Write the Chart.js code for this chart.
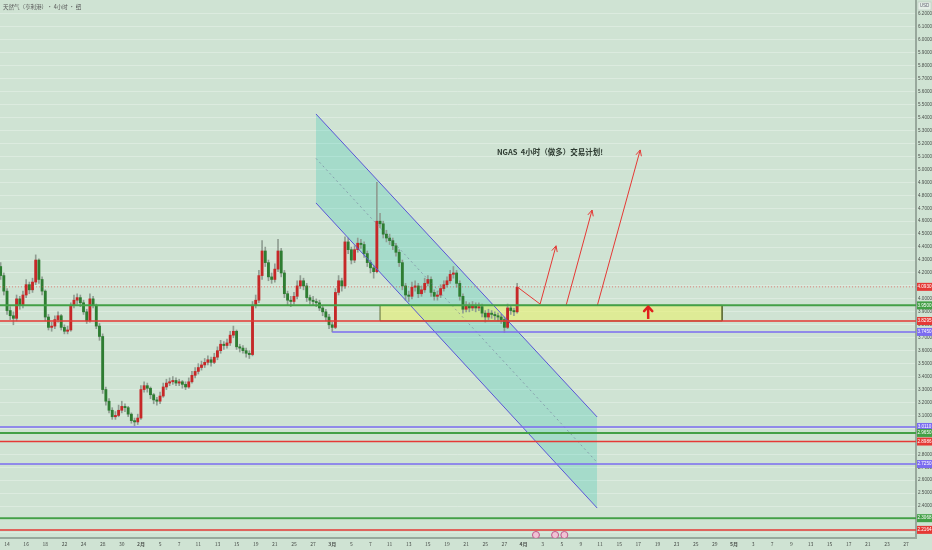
<!DOCTYPE html>
<html><head><meta charset="utf-8">
<script src="https://cdn.jsdelivr.net/npm/chart.js@4.4.1/dist/chart.umd.min.js"></script>
<style>html,body{margin:0;padding:0;background:#cfe3d3;overflow:hidden}#wrap{width:932px;height:550px}</style>
</head><body><div id="wrap"><canvas id="c" width="932" height="550"></canvas></div>
<script>
// ---- data ----
const xLabels = ['14','16','18','22','24','28','30','2月','5','7','11','13','15','19','21','25','27','3月','5','7','11','13','15','19','21','25','27','4月','3','5','9','11','15','17','19','23','25','29','5月','3','7','9','13','15','17','21','23','27'];
const yTicks = [2.2,2.3,2.4,2.5,2.6,2.7,2.8,2.9,3.0,3.1,3.2,3.3,3.4,3.5,3.6,3.7,3.8,3.9,4.0,4.1,4.2,4.3,4.4,4.5,4.6,4.7,4.8,4.9,5.0,5.1,5.2,5.3,5.4,5.5,5.6,5.7,5.8,5.9,6.0,6.1,6.2];
const opens = [4.25,4.18,4.06,3.91,3.87,3.85,4.00,3.95,4.03,4.11,
4.07,4.13,4.30,4.15,4.06,3.86,3.78,3.79,3.84,3.87,
3.78,3.75,3.76,3.95,3.99,4.01,3.97,3.90,3.83,4.00,
3.95,3.79,3.71,3.30,3.21,3.14,3.09,3.10,3.14,3.17,
3.16,3.11,3.06,3.05,3.08,3.30,3.33,3.31,3.26,3.22,
3.21,3.25,3.32,3.35,3.36,3.37,3.35,3.36,3.34,3.32,
3.36,3.41,3.44,3.47,3.49,3.51,3.53,3.51,3.55,3.60,
3.65,3.64,3.66,3.72,3.75,3.63,3.62,3.60,3.58,3.57,
3.95,3.99,4.18,4.37,4.28,4.17,4.15,4.23,4.37,4.20,
4.04,3.99,3.98,4.02,4.10,4.14,4.10,4.01,3.99,3.98,
3.97,3.93,3.90,3.86,3.80,3.78,4.05,4.14,4.10,4.44,
4.38,4.30,4.38,4.43,4.42,4.35,4.28,4.24,4.21,4.60,
4.58,4.50,4.47,4.45,4.41,4.36,4.28,4.10,4.03,4.02,
4.09,4.10,4.04,4.07,4.12,4.15,4.05,4.02,4.03,4.08,
4.11,4.14,4.19,4.20,4.12,4.02,3.92,3.95,3.93,3.95,
3.93,3.94,3.89,3.86,3.89,3.88,3.87,3.86,3.84,3.78,
3.93,3.91,3.90];
const closes = [4.18,4.06,3.91,3.87,3.85,4.00,3.95,4.03,4.11,4.07,
4.13,4.30,4.15,4.06,3.86,3.78,3.79,3.84,3.87,3.78,
3.75,3.76,3.95,3.99,4.01,3.97,3.90,3.83,4.00,3.95,
3.79,3.71,3.30,3.21,3.14,3.09,3.10,3.14,3.17,3.16,
3.11,3.06,3.05,3.08,3.30,3.33,3.31,3.26,3.22,3.21,
3.25,3.32,3.35,3.36,3.37,3.35,3.36,3.34,3.32,3.36,
3.41,3.44,3.47,3.49,3.51,3.53,3.51,3.55,3.60,3.65,
3.64,3.66,3.72,3.75,3.63,3.62,3.60,3.58,3.57,3.95,
3.99,4.18,4.37,4.28,4.17,4.15,4.23,4.37,4.20,4.04,
3.99,3.98,4.02,4.10,4.14,4.10,4.01,3.99,3.98,3.97,
3.93,3.90,3.86,3.80,3.78,4.05,4.14,4.10,4.44,4.38,
4.30,4.38,4.43,4.42,4.35,4.28,4.24,4.21,4.60,4.58,
4.50,4.47,4.45,4.41,4.36,4.28,4.10,4.03,4.02,4.09,
4.10,4.04,4.07,4.12,4.15,4.05,4.02,4.03,4.08,4.11,
4.14,4.19,4.20,4.12,4.02,3.92,3.95,3.93,3.95,3.93,
3.94,3.89,3.86,3.89,3.88,3.87,3.86,3.84,3.78,3.93,
3.91,3.90,4.09];
const highs = [4.28,4.20,4.08,3.94,3.90,4.03,4.02,4.06,4.15,4.13,
4.16,4.34,4.31,4.17,4.07,3.88,3.82,3.87,3.90,3.88,
3.80,3.79,3.97,4.03,4.04,4.03,3.99,3.92,4.04,4.02,
3.96,3.81,3.73,3.32,3.23,3.16,3.13,3.18,3.21,3.19,
3.17,3.12,3.08,3.11,3.33,3.36,3.35,3.32,3.27,3.24,
3.28,3.35,3.38,3.39,3.40,3.39,3.38,3.37,3.36,3.39,
3.44,3.47,3.50,3.52,3.54,3.56,3.55,3.58,3.63,3.68,
3.67,3.69,3.75,3.79,3.76,3.65,3.64,3.62,3.60,3.98,
4.03,4.22,4.45,4.40,4.30,4.20,4.27,4.46,4.39,4.22,
4.06,4.02,4.05,4.14,4.18,4.16,4.12,4.03,4.02,4.00,
3.99,3.95,3.92,3.88,3.82,4.08,4.18,4.16,4.48,4.47,
4.40,4.41,4.47,4.46,4.44,4.37,4.30,4.26,4.90,4.66,
4.60,4.53,4.50,4.47,4.43,4.38,4.30,4.12,4.06,4.13,
4.14,4.12,4.10,4.16,4.18,4.17,4.07,4.06,4.11,4.14,
4.17,4.22,4.25,4.22,4.14,4.04,3.98,3.97,3.98,3.97,
3.97,3.96,3.91,3.92,3.91,3.90,3.89,3.88,3.86,3.96,
3.95,3.93,4.12];
const lows = [4.15,4.03,3.88,3.84,3.80,3.83,3.92,3.93,4.01,4.04,
4.05,4.11,4.12,4.03,3.83,3.76,3.75,3.77,3.82,3.76,
3.73,3.73,3.75,3.93,3.96,3.94,3.88,3.81,3.82,3.93,
3.77,3.68,3.27,3.18,3.12,3.07,3.07,3.09,3.12,3.13,
3.09,3.04,3.02,3.03,3.07,3.28,3.28,3.23,3.19,3.18,
3.19,3.24,3.30,3.33,3.34,3.33,3.33,3.31,3.30,3.31,
3.35,3.39,3.42,3.45,3.47,3.49,3.48,3.50,3.53,3.58,
3.61,3.62,3.64,3.70,3.61,3.59,3.58,3.55,3.54,3.56,
3.93,3.97,4.15,4.25,4.14,4.12,4.13,4.21,4.17,4.01,
3.95,3.94,3.96,4.00,4.08,4.07,3.98,3.96,3.95,3.94,
3.91,3.87,3.83,3.77,3.745,3.77,4.03,4.06,4.08,4.35,
4.27,4.28,4.36,4.39,4.32,4.25,4.20,4.16,4.20,4.55,
4.47,4.44,4.42,4.38,4.33,4.25,4.07,3.99,3.98,4.00,
4.06,4.01,4.02,4.05,4.10,4.02,3.99,3.99,4.01,4.06,
4.09,4.12,4.16,4.09,3.99,3.89,3.90,3.90,3.91,3.90,
3.91,3.86,3.82,3.84,3.85,3.84,3.83,3.81,3.74,3.77,
3.88,3.87,3.89];

// horizontal levels (full width)
const levelPrices = [3.95, 3.8295, 3.011, 2.965, 2.8986, 2.725, 2.3068, 2.2164];
const levelKinds  = ['green','red','purple','green','red','purple','green','red'];
const lastPrice = 4.093;
const supportStart = 104, supportPrice = 3.745;

// price tags on the axis
const tagPrices = [4.093, 3.95, 3.8295, 3.745, 3.011, 2.965, 2.8986, 2.725, 2.3068, 2.2164];
const tagTexts  = ['4.0930','3.9500','3.8295','3.7450','3.0110','2.9650','2.8986','2.7250','2.3068','2.2164'];
const tagKinds  = ['red','green','red','purple','purple','green','red','purple','green','red'];

// descending channel
const channelX = [98.9, 187.1];
const channelUpper = [5.428, 3.088];
const channelMid = [5.085, 2.737];
const channelLower = [4.741, 2.385];

// long zone
const zoneX = [119.0, 226.3];
const zoneTop = 3.95, zoneBottom = 3.8295;

// projected paths
const path1X = [162, 169.2, 174.2], path1Y = [4.093, 3.96, 4.41];
const path2X = [177.3, 185.5], path2Y = [3.945, 4.686];
const path3X = [187.1, 200.6], path3Y = [3.945, 5.15];
const upArrowX = 203.1, upArrowY = [3.845, 3.94];

const noteText = 'NGAS  4小时（做多）交易计划!';
const noteX = 172.3, noteY = 5.134;
const eventX = [167.9, 173.9, 176.8], eventY = 2.177;
const titleText = '天然气（亨利港）· 4小时 · 纽';

// ---- styling ----
const BG = '#cfe3d3';
const COL = {green:'#43a047', red:'#e53935', purple:'#7b6cf0'};
const UPC = '#c62828', DNC = '#2e7d32';

const idx = closes.map((_, i) => i);
const pts = (xs, ys) => xs.map((x, i) => ({x, y: ys[i]}));
const X0 = -0.2, X1 = 287.1;

function line(data, color, width, extra) {
  return Object.assign({type:'line', data, borderColor:color, borderWidth:width, pointRadius:0,
    pointHoverRadius:0, fill:false, tension:0, order:1}, extra || {});
}

const datasets = [];
datasets.push(line(pts(channelX, channelUpper), 'rgba(0,0,0,0)', 0, {fill:'+1', backgroundColor:'rgba(0,190,170,0.2)', order:20}));
datasets.push(line(pts(channelX, channelLower), 'rgba(0,0,0,0)', 0, {order:20}));
datasets.push(line(pts(zoneX, [zoneTop, zoneTop]), 'rgba(0,0,0,0)', 0, {fill:'+1', backgroundColor:'rgba(232,240,110,0.6)', order:19}));
datasets.push(line(pts(zoneX, [zoneBottom, zoneBottom]), 'rgba(0,0,0,0)', 0, {order:19}));
datasets.push({type:'bar', data: idx.map(i => ({x:i, y:[lows[i], highs[i]]})), backgroundColor:'#8f9d92',
  barThickness:1, grouped:false, order:6});
datasets.push({type:'bar', data: idx.map(i => ({x:i, y:[opens[i], closes[i]]})),
  backgroundColor: idx.map(i => closes[i] >= opens[i] ? UPC : DNC), barThickness:2.2, minBarLength:1, grouped:false, order:5});
levelPrices.forEach((p, i) => datasets.push(line(pts([X0, X1], [p, p]), COL[levelKinds[i]], levelKinds[i]==='green'?2:1.5)));
datasets.push(line(pts([supportStart, X1], [supportPrice, supportPrice]), COL.purple, 1.5));
datasets.push(line(pts([X0, X1], [lastPrice, lastPrice]), 'rgba(229,57,53,0.55)', 1, {borderDash:[1,2]}));
datasets.push(line(pts(channelX, channelUpper), '#5a55d8', 1));
datasets.push(line(pts(channelX, channelLower), '#5a55d8', 1));
datasets.push(line(pts(channelX, channelMid), 'rgba(110,110,150,0.55)', 1, {borderDash:[2,3]}));
datasets.push(line(pts([zoneX[0], zoneX[1], zoneX[1], zoneX[0], zoneX[0]], [zoneTop, zoneTop, zoneBottom, zoneBottom, zoneTop]), '#5f6e37', 1));
datasets.push(line(pts(path1X, path1Y), '#e53935', 1, {arrow:'open'}));
datasets.push(line(pts(path2X, path2Y), '#e53935', 1, {arrow:'open'}));
datasets.push(line(pts(path3X, path3Y), '#e53935', 1, {arrow:'open'}));
datasets.push(line(pts([upArrowX, upArrowX], upArrowY), '#e0201c', 2.5, {arrow:'bold'}));
datasets.push({type:'line', showLine:false, data: eventX.map(x => ({x, y:eventY})), pointRadius:3.5,
  pointBackgroundColor:'#efc3d4', pointBorderColor:'#c0568a', pointBorderWidth:1, order:0});

const overlay = {
  id:'overlay',
  beforeDraw(chart) {
    const c = chart.ctx; c.save(); c.fillStyle = BG; c.fillRect(0, 0, chart.width, chart.height); c.restore();
  },
  afterDatasetsDraw(chart) {
    const c = chart.ctx, xs = chart.scales.x, ys = chart.scales.y;
    c.save();
    chart.data.datasets.forEach((ds, i) => {
      if (!ds.arrow) return;
      const d = chart.getDatasetMeta(i).data;
      const a = d[d.length - 2], b = d[d.length - 1];
      const ang = Math.atan2(b.y - a.y, b.x - a.x);
      const L = 6, sp = ds.arrow === 'bold' ? 0.75 : 0.45;
      c.strokeStyle = ds.borderColor; c.lineWidth = ds.borderWidth; c.lineCap = 'round'; c.lineJoin = 'round';
      c.beginPath();
      c.moveTo(b.x - L * Math.cos(ang - sp), b.y - L * Math.sin(ang - sp));
      c.lineTo(b.x, b.y);
      c.lineTo(b.x - L * Math.cos(ang + sp), b.y - L * Math.sin(ang + sp));
      c.stroke();
    });
    c.fillStyle = '#2d3a30';
    c.font = 'bold 7.5px "Noto Sans CJK SC", "Noto Sans", sans-serif';
    c.textAlign = 'center'; c.textBaseline = 'middle';
    c.fillText(noteText, xs.getPixelForValue(noteX), ys.getPixelForValue(noteY));
    c.restore();
  },
  afterDraw(chart) {
    const c = chart.ctx, ys = chart.scales.y, left = ys.left;
    c.save();
    c.font = '4.6px "Liberation Sans", sans-serif';
    c.textAlign = 'center'; c.textBaseline = 'middle';
    tagPrices.forEach((p, i) => {
      const y = ys.getPixelForValue(p);
      c.fillStyle = COL[tagKinds[i]];
      c.fillRect(left + 1, y - 4, chart.width - left - 1, 8);
      c.fillStyle = '#ffffff';
      c.fillText(tagTexts[i], left + 1 + (chart.width - left - 1) / 2, y);
    });
    c.fillStyle = '#e4eee6'; c.fillRect(left + 2, 2, 13, 8);
    c.strokeStyle = '#b3c2b7'; c.lineWidth = 0.5; c.strokeRect(left + 2, 2, 13, 8);
    c.fillStyle = '#667'; c.fillText('USD', left + 8.5, 6);
    c.textAlign = 'left';
    c.font = '5.5px "Noto Sans CJK SC", sans-serif';
    c.fillStyle = '#555';
    c.fillText(titleText, 3, 7);
    c.restore();
  }
};

new Chart(document.getElementById('c'), {
  type:'bar',
  data:{datasets},
  options:{
    responsive:false, animation:false, devicePixelRatio:1,
    layout:{padding:0, autoPadding:false},
    plugins:{legend:{display:false}, tooltip:{enabled:false}},
    scales:{
      x:{type:'linear', min:X0, max:X1, offset:false,
        grid:{display:false, drawTicks:false},
        border:{display:true, color:'#98a89c', width:2},
        afterBuildTicks(axis){ axis.ticks = xLabels.map((_, i) => ({value: 6 * i + 2})); },
        afterFit(axis){ axis.height = 12; axis.paddingLeft = 0; axis.paddingRight = 0; },
        ticks:{autoSkip:false, maxRotation:0, padding:3, color:'#4a4f4b',
          font:(ctx) => ({size:5, family:'"Noto Sans CJK SC", sans-serif', weight: (ctx.tick && String(ctx.tick.label).includes('月')) ? 'bold' : 'normal'}),
          callback:(v, i) => xLabels[i]}},
      y:{type:'linear', position:'right', min:2.1537, max:6.308,
        grid:{color:'rgba(255,255,255,0.28)', lineWidth:1, drawTicks:false},
        border:{display:true, color:'#98a89c', width:2},
        afterBuildTicks(axis){ axis.ticks = yTicks.map(v => ({value:v})); },
        afterFit(axis){ axis.width = 16; axis.paddingTop = 0; axis.paddingBottom = 0; },
        ticks:{padding:2, color:'#4a4f4b', font:{size:4.6, family:'"Liberation Sans", sans-serif'},
          callback:(v) => Number(v).toFixed(4)}}
    }
  },
  plugins:[overlay]
});
</script></body></html>
